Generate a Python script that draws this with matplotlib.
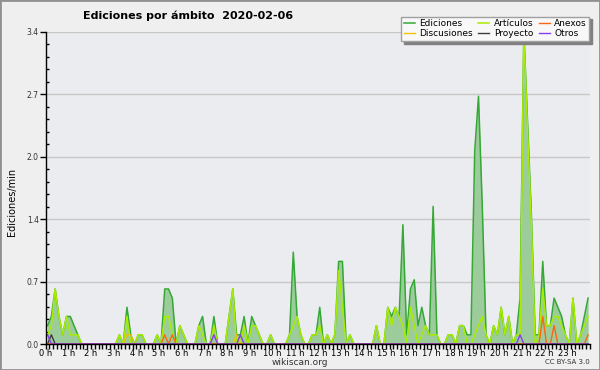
import numpy as np
import matplotlib.pyplot as plt
from matplotlib.ticker import FixedLocator, MultipleLocator, FuncFormatter
from matplotlib.patches import Rectangle

# edits per minute, one value every 10 minutes (6 per hour)
ediciones = [
    0.2, 0.3, 0.6, 0.3, 0.1, 0.3,   # 0 h
    0.3, 0.2, 0.1, 0.0, 0.0, 0.0,   # 1 h
    0.0, 0.0, 0.0, 0.0, 0.0, 0.0,   # 2 h
    0.0, 0.1, 0.0, 0.4, 0.1, 0.0,   # 3 h
    0.1, 0.1, 0.0, 0.0, 0.0, 0.1,   # 4 h
    0.0, 0.6, 0.6, 0.5, 0.0, 0.2,   # 5 h
    0.1, 0.0, 0.0, 0.0, 0.2, 0.3,   # 6 h
    0.0, 0.0, 0.3, 0.0, 0.0, 0.0,   # 7 h
    0.3, 0.6, 0.1, 0.1, 0.3, 0.0,   # 8 h
    0.3, 0.2, 0.1, 0.0, 0.0, 0.1,   # 9 h
    0.0, 0.0, 0.0, 0.0, 0.1, 1.0,   # 10 h
    0.3, 0.1, 0.0, 0.0, 0.1, 0.1,   # 11 h
    0.4, 0.0, 0.1, 0.0, 0.1, 0.9,   # 12 h
    0.9, 0.0, 0.1, 0.0, 0.0, 0.0,   # 13 h
    0.0, 0.0, 0.0, 0.2, 0.0, 0.0,   # 14 h
    0.4, 0.3, 0.4, 0.3, 1.3, 0.1,   # 15 h
    0.6, 0.7, 0.2, 0.4, 0.2, 0.1,   # 16 h
    1.5, 0.1, 0.0, 0.0, 0.1, 0.1,   # 17 h
    0.0, 0.2, 0.2, 0.1, 0.1, 2.1,   # 18 h
    2.7, 1.5, 0.1, 0.0, 0.2, 0.1,   # 19 h
    0.4, 0.1, 0.3, 0.0, 0.1, 0.5,   # 20 h
    3.4, 2.4, 1.4, 0.1, 0.1, 0.9,   # 21 h
    0.2, 0.2, 0.5, 0.4, 0.3, 0.1,   # 22 h
    0.0, 0.5, 0.0, 0.1, 0.3, 0.5,   # 23 h
]

articulos = [
    0.1, 0.2, 0.6, 0.3, 0.1, 0.3,
    0.1, 0.1, 0.1, 0.0, 0.0, 0.0,
    0.0, 0.0, 0.0, 0.0, 0.0, 0.0,
    0.0, 0.1, 0.0, 0.3, 0.0, 0.0,
    0.1, 0.1, 0.0, 0.0, 0.0, 0.1,
    0.0, 0.3, 0.3, 0.1, 0.0, 0.2,
    0.1, 0.0, 0.0, 0.0, 0.2, 0.1,
    0.0, 0.0, 0.2, 0.0, 0.0, 0.0,
    0.3, 0.6, 0.0, 0.0, 0.2, 0.0,
    0.2, 0.2, 0.1, 0.0, 0.0, 0.1,
    0.0, 0.0, 0.0, 0.0, 0.1, 0.2,
    0.3, 0.1, 0.0, 0.0, 0.1, 0.1,
    0.2, 0.0, 0.1, 0.0, 0.1, 0.8,
    0.4, 0.0, 0.1, 0.0, 0.0, 0.0,
    0.0, 0.0, 0.0, 0.2, 0.0, 0.0,
    0.4, 0.2, 0.4, 0.3, 0.2, 0.0,
    0.4, 0.2, 0.0, 0.1, 0.2, 0.1,
    0.1, 0.1, 0.0, 0.0, 0.1, 0.1,
    0.0, 0.2, 0.2, 0.0, 0.0, 0.1,
    0.2, 0.3, 0.1, 0.0, 0.2, 0.1,
    0.4, 0.1, 0.3, 0.0, 0.1, 0.1,
    3.4, 2.3, 1.3, 0.0, 0.1, 0.6,
    0.2, 0.2, 0.3, 0.3, 0.2, 0.1,
    0.0, 0.5, 0.0, 0.1, 0.2, 0.3,
]

# small series: {bin index: value}
anexos_pts = {31: 0.1, 33: 0.1, 131: 0.3, 134: 0.2, 143: 0.1}
discusiones_pts = {21: 0.1, 22: 0.1, 50: 0.1}
proyecto_pts = {1: 0.1}
otros_pts = {0: 0.1, 44: 0.1, 51: 0.1, 125: 0.1}

hour_labels = [f"{h} h" for h in range(24)]


def series(pts):
    s = np.zeros(len(ediciones))
    for k, v in pts.items():
        s[k] = v
    return s


def main():
    x = (np.arange(len(ediciones)) + 0.5) / 6.0

    fig = plt.figure(figsize=(6, 3.7), dpi=100, facecolor='#efefef')
    ax = fig.add_axes([45.7 / 600, 26 / 370, 544.3 / 600, 312 / 370], facecolor='#ebecef')

    ax.fill_between(x, ediciones, color='#9ccc9c', lw=0, zorder=1.5)
    l_ed, = ax.plot(x, ediciones, color='#36a836', lw=1.1, zorder=2)
    l_di, = ax.plot(x, series(discusiones_pts), color='#f2c200', lw=1, zorder=2.1)
    l_pr, = ax.plot(x, series(proyecto_pts), color='#3c3c3c', lw=1, zorder=2.1)
    l_an, = ax.plot(x, series(anexos_pts), color='#ff6414', lw=1, zorder=2.1)
    l_ot, = ax.plot(x, series(otros_pts), color='#8a3cf0', lw=1, zorder=2.1)
    l_ar, = ax.plot(x, articulos, color='#a8ec00', lw=1.1, zorder=2.05)

    ax.set_xlim(0, 24)
    ax.set_ylim(0, 3.4)

    ax.xaxis.set_major_locator(FixedLocator(np.arange(24)))
    ax.set_xticklabels(hour_labels)
    ax.xaxis.set_minor_locator(MultipleLocator(1 / 6))
    ax.yaxis.set_major_locator(FixedLocator(np.arange(6) * 0.68))
    ax.yaxis.set_minor_locator(MultipleLocator(0.136))
    ax.yaxis.set_major_formatter(FuncFormatter(lambda v, p: f"{v:.1f}"))

    ax.tick_params(axis='x', which='both', direction='out', length=3.5, width=1,
                   labelsize=6, pad=0, colors='black')
    ax.tick_params(axis='y', which='major', direction='out', length=4, width=1,
                   labelsize=5.5, pad=1, labelcolor='#333333')
    ax.tick_params(axis='y', which='minor', direction='in', length=2.5, width=1)

    ax.yaxis.grid(True, color='#c8c8c8', lw=1)
    ax.set_axisbelow(True)
    for s in ('top', 'right'):
        ax.spines[s].set_visible(False)
    for s in ('left', 'bottom'):
        ax.spines[s].set_linewidth(1)
        ax.spines[s].set_zorder(3)

    fig.text(188 / 600, 1 - 16 / 370, 'Ediciones por ámbito  2020-02-06',
             ha='center', va='center', fontsize=8, fontweight='bold')
    fig.text(12 / 600, 1 - 202 / 370, 'Ediciones/min', rotation=90,
             ha='center', va='center', fontsize=7)
    fig.text(300 / 600, 1 - 362.5 / 370, 'wikiscan.org', ha='center', va='center',
             fontsize=6.5, color='#333333')
    fig.text(590 / 600, 1 - 362.5 / 370, 'CC BY-SA 3.0', ha='right', va='center',
             fontsize=5, color='#333333')

    handles = [l_ed, l_di, l_ar, l_pr, l_an, l_ot]
    labels = ['Ediciones', 'Discusiones', 'Artículos', 'Proyecto', 'Anexos', 'Otros']
    fig.legend(handles, labels, ncol=3, loc='upper right',
               bbox_to_anchor=(594 / 600, 1 - 12 / 370), fontsize=6.5,
               handlelength=1.2, handletextpad=0.5, columnspacing=0.6,
               labelspacing=0.1, borderpad=0.3, fancybox=False,
               shadow={'color': '#808080', 'alpha': 1.0},
               framealpha=1, facecolor='#f8f8f8', edgecolor='#a0a0a0')

    fig.patches.append(Rectangle((0, 0), 1, 1, transform=fig.transFigure,
                                 fill=False, edgecolor='#909090', lw=2))

    fig.savefig('out.png', dpi=100, facecolor=fig.get_facecolor())


if __name__ == "__main__":
    main()
